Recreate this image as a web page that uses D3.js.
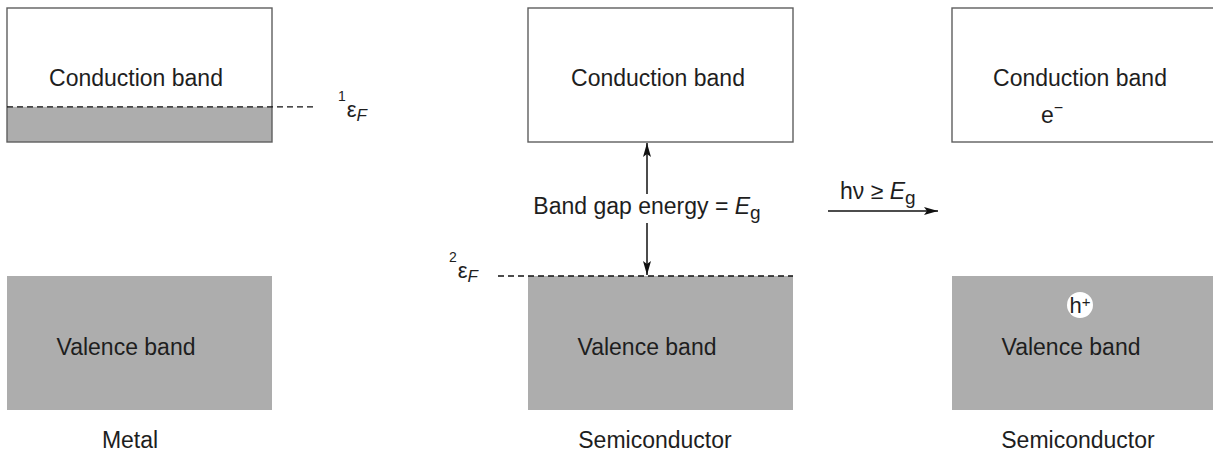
<!DOCTYPE html>
<html>
<head>
<meta charset="utf-8">
<script src="https://cdn.jsdelivr.net/npm/d3@7"></script>
<style>
  body { margin: 0; background: #fff; overflow: hidden; }
  text { font-family: "Liberation Sans", Arial, Helvetica, sans-serif; fill: #1e1e1e; }
</style>
</head>
<body>
<div id="chart"></div>
<script>
  // panels and their captions
  var panels = ["metal", "semi", "semiExcited"];
  var panelCaptions = ["Metal", "Semiconductor", "Semiconductor"];
  var bandNames = ["Conduction band", "Valence band"];

  // band edges, arbitrary energy units
  var conductionBand = [8, 12];
  var valenceBand = [0, 4];
  // fermi level of each panel (null = none drawn)
  var fermiLevels = [9.05, 4, null];
  var fermiTags = ["1", "2", null];
  // electrons filling the conduction band (metal only)
  var filledTo = [9.05, null, null];

  var gapLabel = "Band gap energy = ";
  var photonLabel = "hν ≥ ";

  // set the dimensions of the drawing
  var width = 1213, height = 452, boxW = 265;

  var svg = d3.select("#chart").append("svg")
      .attr("width", width)
      .attr("height", height);

  // scales
  var x = d3.scaleOrdinal().domain(panels).range([7, 528, 952]);
  var y = d3.scaleLinear().domain([0, 12]).range([410, 8]);

  var grey = "#adadad";

  var panel = svg.selectAll(".panel")
    .data(panels)
    .enter().append("g")
      .attr("class", "panel")
      .attr("transform", function(d) { return "translate(" + x(d) + ",0)"; });

  // valence band
  panel.append("rect")
      .attr("x", 0)
      .attr("y", y(valenceBand[1]))
      .attr("width", function(d, i) { return i == 2 ? boxW + 20 : boxW; })
      .attr("height", y(valenceBand[0]) - y(valenceBand[1]))
      .style("fill", grey);

  // filled part of the conduction band
  panel.filter(function(d, i) { return filledTo[i] != null; })
    .append("rect")
      .attr("x", 0)
      .attr("y", function(d) { return y(filledTo[panels.indexOf(d)]); })
      .attr("width", boxW)
      .attr("height", function(d) { return y(conductionBand[0]) - y(filledTo[panels.indexOf(d)]); })
      .style("fill", grey);

  // conduction band box
  panel.append("rect")
      .attr("x", 0)
      .attr("y", y(conductionBand[1]))
      .attr("width", function(d, i) { return i == 2 ? boxW + 20 : boxW; })
      .attr("height", y(conductionBand[0]) - y(conductionBand[1]))
      .style("fill", "none")
      .style("stroke", "#5e5e5e")
      .style("stroke-width", 1.4);

  // band labels
  var cbOffset = [129, 130, 128];
  var vbOffset = [119, 119, 119];
  panel.append("text")
      .attr("x", function(d, i) { return cbOffset[i]; })
      .attr("y", y(conductionBand[1]) + 78)
      .attr("text-anchor", "middle")
      .style("font-size", "23px")
      .text(bandNames[0]);

  panel.append("text")
      .attr("x", function(d, i) { return vbOffset[i]; })
      .attr("y", y(valenceBand[1]) + 79)
      .attr("text-anchor", "middle")
      .style("font-size", "23px")
      .text(bandNames[1]);

  // captions under each panel
  var capOffset = [123, 127, 126];
  panel.append("text")
      .attr("x", function(d, i) { return capOffset[i]; })
      .attr("y", 448)
      .attr("text-anchor", "middle")
      .style("font-size", "23px")
      .text(function(d, i) { return panelCaptions[i]; });

  // fermi levels
  var fermiSpan = [[0, boxW + 41], [-30, boxW], null];
  var fermi = panel.filter(function(d, i) { return fermiLevels[i] != null; });
  fermi.append("line")
      .attr("x1", function(d) { return fermiSpan[panels.indexOf(d)][0]; })
      .attr("x2", function(d) { return fermiSpan[panels.indexOf(d)][1]; })
      .attr("y1", function(d) { return y(fermiLevels[panels.indexOf(d)]); })
      .attr("y2", function(d) { return y(fermiLevels[panels.indexOf(d)]); })
      .style("stroke", "#111")
      .style("stroke-width", 1.4)
      .style("stroke-dasharray", "6,4");

  // fermi labels (prefix superscript, epsilon, italic F subscript)
  var tagX = [331, -79];
  var tagDy = [10, 2];
  var tag = fermi.append("text")
      .attr("x", function(d) { return tagX[panels.indexOf(d)]; })
      .attr("y", function(d, i) { return y(fermiLevels[panels.indexOf(d)]) + tagDy[i]; });
  tag.append("tspan")
      .attr("dy", -16)
      .style("font-size", "14px")
      .text(function(d) { return fermiTags[panels.indexOf(d)]; });
  tag.append("tspan")
      .attr("dy", 16)
      .attr("dx", 1)
      .style("font-size", "22px")
      .text("ε");
  tag.append("tspan")
      .attr("dy", 4)
      .style("font-size", "17px")
      .style("font-style", "italic")
      .text("F");

  // arrow markers
  var defs = svg.append("defs");
  defs.append("marker")
      .attr("id", "head")
      .attr("viewBox", "0 0 14 8")
      .attr("refX", 14)
      .attr("refY", 4)
      .attr("markerWidth", 14)
      .attr("markerHeight", 8)
      .attr("markerUnits", "userSpaceOnUse")
      .attr("orient", "auto")
    .append("path")
      .attr("d", "M0,0 L14,4 L0,8 L3,4 Z")
      .style("fill", "#111");

  // band gap arrow
  var gx = x("semi") + 119;
  var gapMid = 206;
  svg.append("line")
      .attr("x1", gx).attr("x2", gx)
      .attr("y1", gapMid - 12).attr("y2", y(conductionBand[0]) + 1)
      .style("stroke", "#111").style("stroke-width", 1.5)
      .attr("marker-end", "url(#head)");
  svg.append("line")
      .attr("x1", gx).attr("x2", gx)
      .attr("y1", gapMid + 17).attr("y2", y(valenceBand[1]) - 1)
      .style("stroke", "#111").style("stroke-width", 1.5)
      .attr("marker-end", "url(#head)");

  var gapText = svg.append("text")
      .attr("x", gx)
      .attr("y", 214)
      .attr("text-anchor", "middle")
      .style("font-size", "23px");
  gapText.append("tspan").text(gapLabel);
  gapText.append("tspan").style("font-style", "italic").text("E");
  gapText.append("tspan").attr("dy", 5).style("font-size", "19px").text("g");

  // photon excitation arrow
  svg.append("line")
      .attr("x1", 828).attr("x2", 938)
      .attr("y1", 211).attr("y2", 211)
      .style("stroke", "#111").style("stroke-width", 1.5)
      .attr("marker-end", "url(#head)");

  var hv = svg.append("text")
      .attr("x", 840)
      .attr("y", 199)
      .style("font-size", "23px");
  hv.append("tspan").text(photonLabel);
  hv.append("tspan").style("font-style", "italic").text("E");
  hv.append("tspan").attr("dy", 5).style("font-size", "19px").text("g");

  // excited electron
  var ex = x("semiExcited");
  var el = svg.append("text")
      .attr("x", ex + 89)
      .attr("y", 123)
      .style("font-size", "23px");
  el.append("tspan").text("e");
  el.append("tspan").attr("dy", -10).style("font-size", "16px").text("−");

  // hole left behind
  svg.append("circle")
      .attr("cx", ex + 128)
      .attr("cy", 305)
      .attr("r", 13)
      .style("fill", "#fff");
  var hole = svg.append("text")
      .attr("x", ex + 128)
      .attr("y", 313)
      .attr("text-anchor", "middle")
      .style("font-size", "22px");
  hole.append("tspan").text("h");
  hole.append("tspan").attr("dy", -6).style("font-size", "15px").text("+");
</script>
</body>
</html>
